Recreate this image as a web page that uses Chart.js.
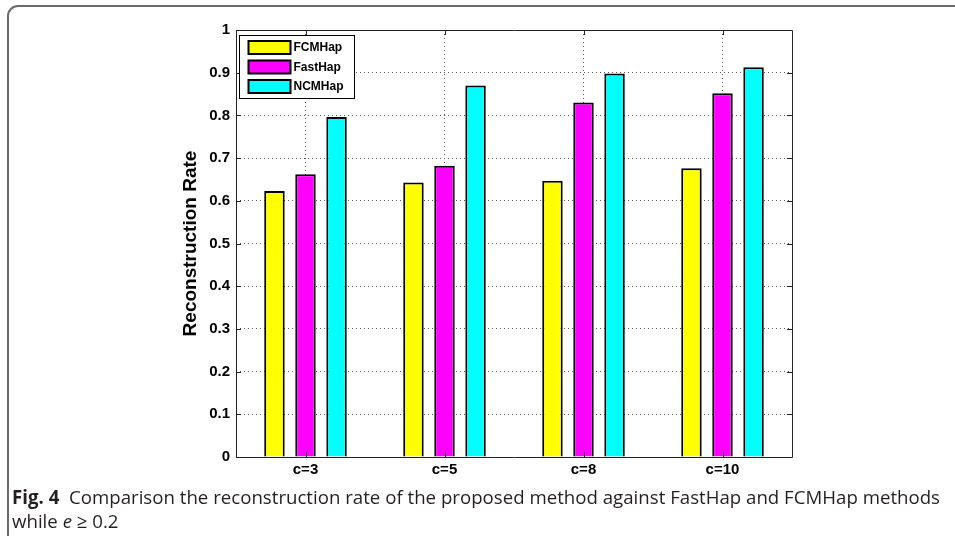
<!DOCTYPE html>
<html>
<head>
<meta charset="utf-8">
<script src="https://cdn.jsdelivr.net/npm/chart.js@4.4.0/dist/chart.umd.min.js"></script>
<style>
  html, body { margin: 0; padding: 0; background: #fff; overflow: hidden; }
  #wrap { position: relative; width: 955px; height: 536px; overflow: hidden; background: #fff; }
  #frame { position: absolute; left: 7px; top: 5px; width: 1100px; height: 700px;
           border: 2px solid #6a6a6a; border-radius: 11px; box-sizing: border-box; }
  #cv { position: absolute; left: 0; top: 0; }
  .cap { position: absolute; left: 12px; font-family: "Open Sans", sans-serif; font-size: 19px;
         color: #231f20; white-space: nowrap; transform-origin: 0 50%; line-height: 24px; }
  #cap1 { top: 485px; }
  #cap2 { top: 509px; }
  .cap b { font-weight: 700; }
</style>
</head>
<body>
<div id="wrap">
  <div id="frame"></div>
  <canvas id="cv" width="955" height="536"></canvas>
  <div class="cap" id="cap1"><b>Fig. 4</b>&nbsp; Comparison the reconstruction rate of the proposed method against FastHap and FCMHap methods</div>
  <div class="cap" id="cap2">while <i>e</i> &ge; 0.2</div>
</div>
<script>
const categories = ["c=3", "c=5", "c=8", "c=10"];
const fcmhap  = [0.623, 0.643, 0.647, 0.676];
const fasthap = [0.662, 0.682, 0.830, 0.852];
const ncmhap  = [0.796, 0.870, 0.898, 0.913];
const seriesNames = ["FCMHap", "FastHap", "NCMHap"];
const seriesColors = ["#ffff00", "#ff00ff", "#00ffff"];
const yTicks = [0, 0.1, 0.2, 0.3, 0.4, 0.5, 0.6, 0.7, 0.8, 0.9, 1];

const FONT = '"Liberation Sans", Arial, sans-serif';

const framePlugin = {
  id: 'framePlugin',
  afterDatasetsDraw(chart) {
    const ctx = chart.ctx, a = chart.chartArea;
    const ys = chart.scales.y, xs = chart.scales.x;
    ctx.save();
    ctx.strokeStyle = '#222';
    ctx.lineWidth = 1;
    ctx.beginPath();
    ctx.rect(Math.round(a.left) + 0.5, Math.round(a.top) + 0.5,
             Math.round(a.right - a.left), Math.round(a.bottom - a.top));
    ctx.stroke();
    // inward ticks
    ctx.beginPath();
    yTicks.forEach(v => {
      const y = Math.round(ys.getPixelForValue(v)) + 0.5;
      ctx.moveTo(a.left, y); ctx.lineTo(a.left + 5, y);
      ctx.moveTo(a.right, y); ctx.lineTo(a.right - 5, y);
    });
    categories.forEach((c, i) => {
      const x = Math.round(xs.getPixelForValue(i)) + 0.5;
      ctx.moveTo(x, a.bottom); ctx.lineTo(x, a.bottom - 5);
      ctx.moveTo(x, a.top); ctx.lineTo(x, a.top + 5);
    });
    ctx.stroke();
    // legend box
    const lx = a.left + 3.5, ly = a.top + 5.5, lw = 115, lh = 63;
    ctx.fillStyle = '#fff';
    ctx.fillRect(lx, ly, lw, lh);
    ctx.strokeStyle = '#000';
    ctx.strokeRect(lx, ly, lw, lh);
    ctx.font = 'bold 12px ' + FONT;
    ctx.textBaseline = 'middle';
    chart.data.datasets.forEach((ds, i) => {
      const ry = ly + 11.5 + i * 19.5;
      ctx.fillStyle = ds.backgroundColor;
      ctx.fillRect(lx + 9, ry - 6, 42, 13);
      ctx.lineWidth = 2;
      ctx.strokeStyle = '#000';
      ctx.strokeRect(lx + 9, ry - 6, 42, 13);
      ctx.lineWidth = 1;
      ctx.fillStyle = '#000';
      ctx.textAlign = 'left';
      ctx.fillText(ds.label, lx + 54, ry + 1);
    });
    ctx.restore();
  }
};

new Chart(document.getElementById('cv'), {
  type: 'bar',
  data: {
    labels: categories,
    datasets: [
      { label: seriesNames[0], data: fcmhap, backgroundColor: seriesColors[0] },
      { label: seriesNames[1], data: fasthap, backgroundColor: seriesColors[1] },
      { label: seriesNames[2], data: ncmhap, backgroundColor: seriesColors[2] }
    ].map(d => Object.assign(d, { borderColor: '#000', borderWidth: 2,
      categoryPercentage: 0.67, barPercentage: 0.66 }))
  },
  options: {
    responsive: false,
    animation: false,
    devicePixelRatio: 1,
    layout: { padding: { left: 175, top: 30, right: 163, bottom: 59 } },
    plugins: { legend: { display: false }, tooltip: { enabled: false } },
    scales: {
      x: {
        grid: { offset: false, color: '#555', lineWidth: 1, drawTicks: false },
        border: { display: false, dash: [1, 3] },
        ticks: { color: '#000', font: { family: FONT, size: 15, weight: 'bold' }, padding: 4, maxRotation: 0 },
        afterFit(s) { s.height = 20; }
      },
      y: {
        min: 0, max: 1,
        afterBuildTicks(s) { s.ticks = yTicks.map(v => ({ value: v })); },
        grid: { color: '#555', lineWidth: 1, drawTicks: false },
        border: { display: false, dash: [1, 3] },
        ticks: { color: '#000', font: { family: FONT, size: 15, weight: 'bold' }, padding: 6,
                 callback: v => String(Math.round(v * 10) / 10) },
        title: { display: true, text: 'Reconstruction Rate', color: '#000',
                 font: { family: FONT, size: 19, weight: 'bold' }, padding: { top: 4, bottom: 0 } },
        afterFit(s) { s.width = 61; }
      }
    }
  },
  plugins: [framePlugin]
});

// fit caption line 1 to reference width
const c1 = document.getElementById('cap1');
const target = 928;
const w = c1.getBoundingClientRect().width;
const sx = target / w;
c1.style.transform = 'scaleX(' + sx + ')';
document.getElementById('cap2').style.transform = 'scaleX(' + sx + ')';
</script>
</body>
</html>
